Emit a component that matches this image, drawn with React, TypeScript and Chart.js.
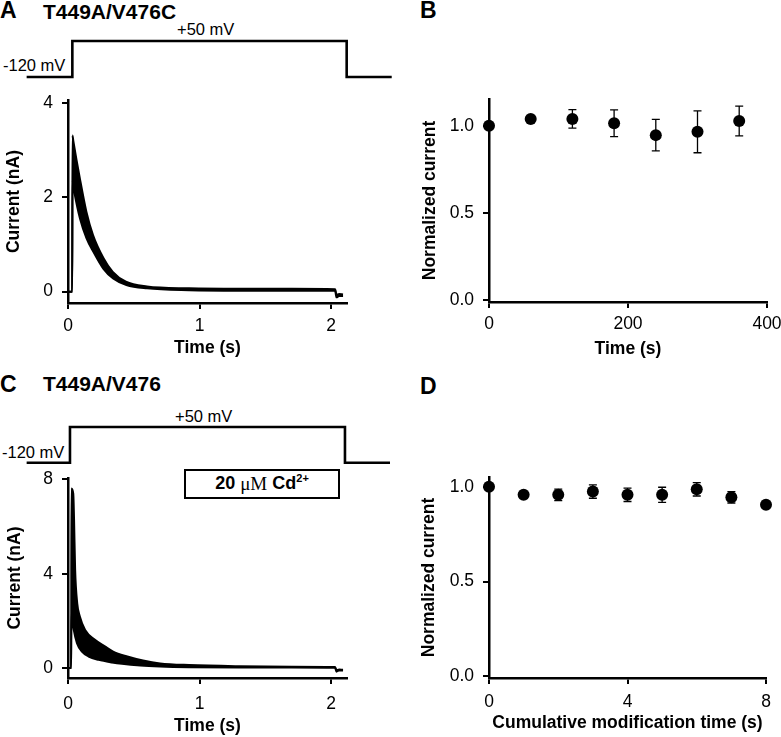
import React, { useEffect, useRef } from 'react';
import { Chart, registerables } from 'chart.js';

Chart.register(...registerables);

const SANS = "'Liberation Sans', Arial, Helvetica, sans-serif";
const SERIF = "'Liberation Serif', 'Times New Roman', serif";

// ---------- Panel A: T449A/V476C ----------
const protocolVoltage = [-120, -120, 50, 50, -120, -120];
const aProtocolTime = [-0.314, 0.033, 0.033, 2.116, 2.116, 2.458];
const aSlowTime = [0, 0.032, 0.034, 0.04, 0.09, 0.14, 0.19, 0.27, 0.34, 0.44, 0.6, 0.92, 1.3, 1.7, 2.03, 2.04, 2.06, 2.09];
const aSlowCurrent = [0, 0, 3.31, 3.2, 2.4, 1.69, 1.2, 0.71, 0.42, 0.21, 0.11, 0.07, 0.06, 0.06, 0.05, -0.07, -0.05, -0.06];
const aFastTime = [0, 0.032, 0.034, 0.048, 0.091, 0.141, 0.192, 0.268, 0.343, 0.444, 0.6, 0.92, 1.3, 1.7, 2.03, 2.04, 2.06, 2.09];
const aFastCurrent = [0, 0, 2.35, 2.11, 1.55, 1.13, 0.85, 0.49, 0.28, 0.14, 0.07, 0.03, 0.02, 0.02, 0.02, -0.12, -0.09, -0.09];
const aXTicks = [0, 1, 2];
const aYTicks = [0, 2, 4];

// ---------- Panel B ----------
const bTime = [0, 60, 120, 180, 240, 300, 360];
const bMean = [1.0, 1.039, 1.039, 1.014, 0.946, 0.965, 1.027];
const bSem = [0, 0, 0.053, 0.077, 0.09, 0.12, 0.085];
const bXTicks = [0, 200, 400];
const bYTicks = [0, 0.5, 1.0];

// ---------- Panel C: T449A/V476 ----------
const cProtocolTime = [-0.314, 0.015, 0.015, 2.103, 2.103, 2.445];
const cSlowTime = [0, 0.024, 0.026, 0.04, 0.046, 0.054, 0.07, 0.09, 0.13, 0.205, 0.28, 0.343, 0.444, 0.57, 0.7, 0.92, 1.3, 1.7, 2.03, 2.04, 2.06, 2.09];
const cSlowCurrent = [0, 0, 7.62, 7.4, 6.3, 4.2, 2.75, 2.19, 1.62, 1.2, 0.92, 0.7, 0.5, 0.32, 0.2, 0.13, 0.08, 0.06, 0.05, -0.1, -0.06, -0.07];
const cFastTime = [0, 0.024, 0.026, 0.043, 0.068, 0.106, 0.157, 0.233, 0.334, 0.41, 0.55, 0.7, 0.92, 1.3, 1.7, 2.03, 2.04, 2.06, 2.09];
const cFastCurrent = [0, 0, 2.3, 1.64, 1.06, 0.7, 0.49, 0.35, 0.24, 0.18, 0.11, 0.07, 0.04, 0.02, 0.02, 0.01, -0.15, -0.1, -0.1];
const cXTicks = [0, 1, 2];
const cYTicks = [0, 4, 8];

// ---------- Panel D ----------
const dTime = [0, 1, 2, 3, 4, 5, 6, 7, 8];
const dMean = [1.0, 0.957, 0.957, 0.974, 0.957, 0.957, 0.986, 0.944, 0.905];
const dSem = [0, 0, 0.03, 0.035, 0.035, 0.04, 0.035, 0.03, 0];
const dXTicks = [0, 4, 8];
const dYTicks = [0, 0.5, 1.0];

const pts = (xs: number[], ys: number[]) => xs.map((x, i) => ({ x, y: ys[i] }));
const intFmt = (v: any) => String(v);
const oneDec = (v: any) => Number(v).toFixed(1);

const errorBarPlugin = {
  id: 'errorBars',
  beforeDatasetsDraw(chart: any) {
    const ctx = chart.ctx;
    const ys = chart.scales.y;
    chart.data.datasets.forEach((ds: any, i: number) => {
      const errs = ds.errorBars;
      if (!errs) return;
      const meta = chart.getDatasetMeta(i);
      ctx.save();
      ctx.strokeStyle = '#000';
      ctx.lineWidth = 1.3;
      meta.data.forEach((el: any, j: number) => {
        const e = errs[j];
        if (!e) return;
        const v = ds.data[j].y;
        const x = el.x;
        const y1 = ys.getPixelForValue(v + e);
        const y2 = ys.getPixelForValue(v - e);
        ctx.beginPath();
        ctx.moveTo(x, y1); ctx.lineTo(x, y2);
        ctx.moveTo(x - 4, y1); ctx.lineTo(x + 4, y1);
        ctx.moveTo(x - 4, y2); ctx.lineTo(x + 4, y2);
        ctx.stroke();
      });
      ctx.restore();
    });
  },
};

function xAxis(o: { min: number; max: number; ticks: number[]; title: string; height: number; tickPad: number; titlePad: number; fmt: (v: any) => string }) {
  return {
    type: 'linear',
    min: o.min,
    max: o.max,
    afterBuildTicks: (s: any) => { s.ticks = o.ticks.map((v) => ({ value: v })); },
    afterFit: (s: any) => { s.height = o.height; s.paddingLeft = 0; s.paddingRight = 0; },
    grid: { display: true, drawOnChartArea: false, drawTicks: true, tickLength: 6, lineWidth: 2, color: '#000', tickColor: '#000' },
    border: { display: true, color: '#000', width: 2.5 },
    ticks: { color: '#000', font: { family: SANS, size: 17.5 }, padding: o.tickPad, maxRotation: 0, autoSkip: false, callback: o.fmt },
    title: { display: true, text: o.title, color: '#000', font: { family: SANS, size: 17.5, weight: 'bold' }, padding: { top: 0, bottom: o.titlePad } },
  };
}

function yAxis(o: { min: number; max: number; ticks: number[]; title: string; width: number; titlePad: number; fmt: (v: any) => string }) {
  return {
    type: 'linear',
    min: o.min,
    max: o.max,
    afterBuildTicks: (s: any) => { s.ticks = o.ticks.map((v) => ({ value: v })); },
    afterFit: (s: any) => { s.width = o.width; s.paddingTop = 0; s.paddingBottom = 0; },
    grid: { display: true, drawOnChartArea: false, drawTicks: true, tickLength: 6, lineWidth: 2, color: '#000', tickColor: '#000' },
    border: { display: true, color: '#000', width: 2.5 },
    ticks: { color: '#000', font: { family: SANS, size: 17.5 }, padding: 9, autoSkip: false, callback: o.fmt },
    title: { display: true, text: o.title, color: '#000', font: { family: SANS, size: 17.5, weight: 'bold' }, padding: { top: o.titlePad, bottom: 0 } },
  };
}

const basePlugins = { legend: { display: false }, tooltip: { enabled: false } };

function traceConfig(o: any) {
  return {
    type: 'line',
    data: {
      datasets: [
        { data: pts(o.slowT, o.slowI), borderColor: '#000', borderWidth: 2, pointRadius: 0, cubicInterpolationMode: 'monotone', fill: false },
        { data: pts(o.fastT, o.fastI), borderColor: '#000', borderWidth: 2, pointRadius: 0, cubicInterpolationMode: 'monotone', fill: '-1', backgroundColor: '#000' },
      ],
    },
    options: {
      responsive: false,
      animation: false,
      devicePixelRatio: 1,
      events: [],
      layout: { padding: o.padding },
      plugins: basePlugins,
      scales: { x: o.x, y: o.y },
    },
  };
}

function protocolConfig(times: number[], yMin: number, yMax: number) {
  return {
    type: 'line',
    data: { datasets: [{ data: pts(times, protocolVoltage), borderColor: '#000', borderWidth: 2.6, pointRadius: 0, tension: 0, fill: false }] },
    options: {
      responsive: false,
      animation: false,
      devicePixelRatio: 1,
      events: [],
      layout: { padding: 0 },
      plugins: basePlugins,
      scales: {
        x: { type: 'linear', display: false, min: -0.5163, max: 2.5209 },
        y: { type: 'linear', display: false, min: yMin, max: yMax },
      },
    },
  };
}

function scatterConfig(o: any) {
  return {
    type: 'scatter',
    data: {
      datasets: [
        { data: pts(o.xs, o.ys), errorBars: o.errs, backgroundColor: '#000', borderColor: '#000', borderWidth: 0, pointRadius: 6, pointHoverRadius: 6, clip: false },
      ],
    },
    options: {
      responsive: false,
      animation: false,
      devicePixelRatio: 1,
      events: [],
      layout: { padding: o.padding },
      plugins: basePlugins,
      scales: { x: o.x, y: o.y },
    },
    plugins: [errorBarPlugin],
  };
}

function ChartCanvas({ left, top, width, height, config }: any) {
  const ref = useRef<HTMLCanvasElement>(null);
  useEffect(() => {
    const chart = new Chart(ref.current as HTMLCanvasElement, config);
    return () => chart.destroy();
  }, []);
  return <canvas ref={ref} width={width} height={height} style={{ position: 'absolute', left, top, width, height }} />;
}

function Txt({ x, capTop, size, bold, children }: any) {
  return (
    <div style={{ position: 'absolute', left: x, top: capTop - 0.13 * size, fontFamily: SANS, fontSize: size, fontWeight: bold ? 'bold' : 'normal', lineHeight: `${size}px`, whiteSpace: 'nowrap', color: '#000' }}>
      {children}
    </div>
  );
}

export default function App() {
  useEffect(() => { document.body.style.margin = '0'; }, []);

  const aConfig = traceConfig({
    slowT: aSlowTime, slowI: aSlowCurrent, fastT: aFastTime, fastI: aFastCurrent,
    padding: { left: 0, top: 10, right: 33, bottom: 0 },
    x: xAxis({ min: 0, max: 2.12, ticks: aXTicks, title: 'Time (s)', height: 57, tickPad: 6.5, titlePad: 1, fmt: intFmt }),
    y: yAxis({ min: -0.24, max: 4.06, ticks: aYTicks, title: 'Current (nA)', width: 68, titlePad: 3.5, fmt: intFmt }),
  });
  const cConfig = traceConfig({
    slowT: cSlowTime, slowI: cSlowCurrent, fastT: cFastTime, fastI: cFastCurrent,
    padding: { left: 0, top: 10, right: 33, bottom: 0 },
    x: xAxis({ min: 0, max: 2.12, ticks: cXTicks, title: 'Time (s)', height: 59, tickPad: 9.7, titlePad: 0, fmt: intFmt }),
    y: yAxis({ min: -0.42, max: 8.06, ticks: cYTicks, title: 'Current (nA)', width: 68, titlePad: 4.5, fmt: intFmt }),
  });
  const bConfig = scatterConfig({
    xs: bTime, ys: bMean, errs: bSem,
    padding: { left: 0, top: 9, right: 14, bottom: 0 },
    x: xAxis({ min: 0, max: 400, ticks: bXTicks, title: 'Time (s)', height: 58, tickPad: 6, titlePad: 0, fmt: intFmt }),
    y: yAxis({ min: -0.01, max: 1.153, ticks: bYTicks, title: 'Normalized current', width: 89, titlePad: 19.5, fmt: oneDec }),
  });
  const dConfig = scatterConfig({
    xs: dTime, ys: dMean, errs: dSem,
    padding: { left: 0, top: 9, right: 15, bottom: 0 },
    x: xAxis({ min: 0, max: 8, ticks: dXTicks, title: 'Cumulative modification time (s)', height: 59, tickPad: 7.5, titlePad: 3, fmt: intFmt }),
    y: yAxis({ min: -0.008, max: 1.051, ticks: dYTicks, title: 'Normalized current', width: 89, titlePad: 19, fmt: oneDec }),
  });

  return (
    <div style={{ position: 'fixed', left: 0, top: 0, width: 781, height: 737, overflow: 'hidden', background: '#fff' }}>
      {/* Panel A */}
      <Txt x={0} capTop={2} size={23} bold>A</Txt>
      <Txt x={43} capTop={3.5} size={21} bold>T449A/V476C</Txt>
      <Txt x={177} capTop={23} size={16.5}>+50 mV</Txt>
      <Txt x={3} capTop={59} size={16.5}>-120 mV</Txt>
      <ChartCanvas left={0} top={20} width={400} height={80} config={protocolConfig(aProtocolTime, -228.61, 149.17)} />
      <ChartCanvas left={0} top={90} width={380} height={270} config={aConfig} />

      {/* Panel B */}
      <Txt x={420} capTop={2} size={23} bold>B</Txt>
      <ChartCanvas left={400} top={90} width={381} height={270} config={bConfig} />

      {/* Panel C */}
      <Txt x={0} capTop={375.5} size={23} bold>C</Txt>
      <Txt x={43} capTop={375.5} size={21} bold>T449A/V476</Txt>
      <Txt x={175} capTop={410} size={16.5}>+50 mV</Txt>
      <Txt x={2} capTop={446} size={16.5}>-120 mV</Txt>
      <ChartCanvas left={0} top={400} width={400} height={80} config={protocolConfig(cProtocolTime, -202.4, 178.6)} />
      <ChartCanvas left={0} top={468} width={380} height={269} config={cConfig} />
      <div style={{ position: 'absolute', left: 184, top: 469, width: 156, height: 29.5, border: '2.5px solid #000', boxSizing: 'border-box', display: 'flex', alignItems: 'center', justifyContent: 'center', fontFamily: SANS, fontSize: 18, fontWeight: 'bold', color: '#000', background: '#fff', whiteSpace: 'nowrap' }}>
        <span>20&nbsp;</span>
        <span style={{ fontFamily: SERIF, fontWeight: 'normal', fontSize: 19 }}>μM</span>
        <span>&nbsp;Cd</span>
        <span style={{ fontSize: 11, position: 'relative', top: -6 }}>2+</span>
      </div>

      {/* Panel D */}
      <Txt x={420} capTop={378} size={23} bold>D</Txt>
      <ChartCanvas left={400} top={468} width={381} height={269} config={dConfig} />
    </div>
  );
}
